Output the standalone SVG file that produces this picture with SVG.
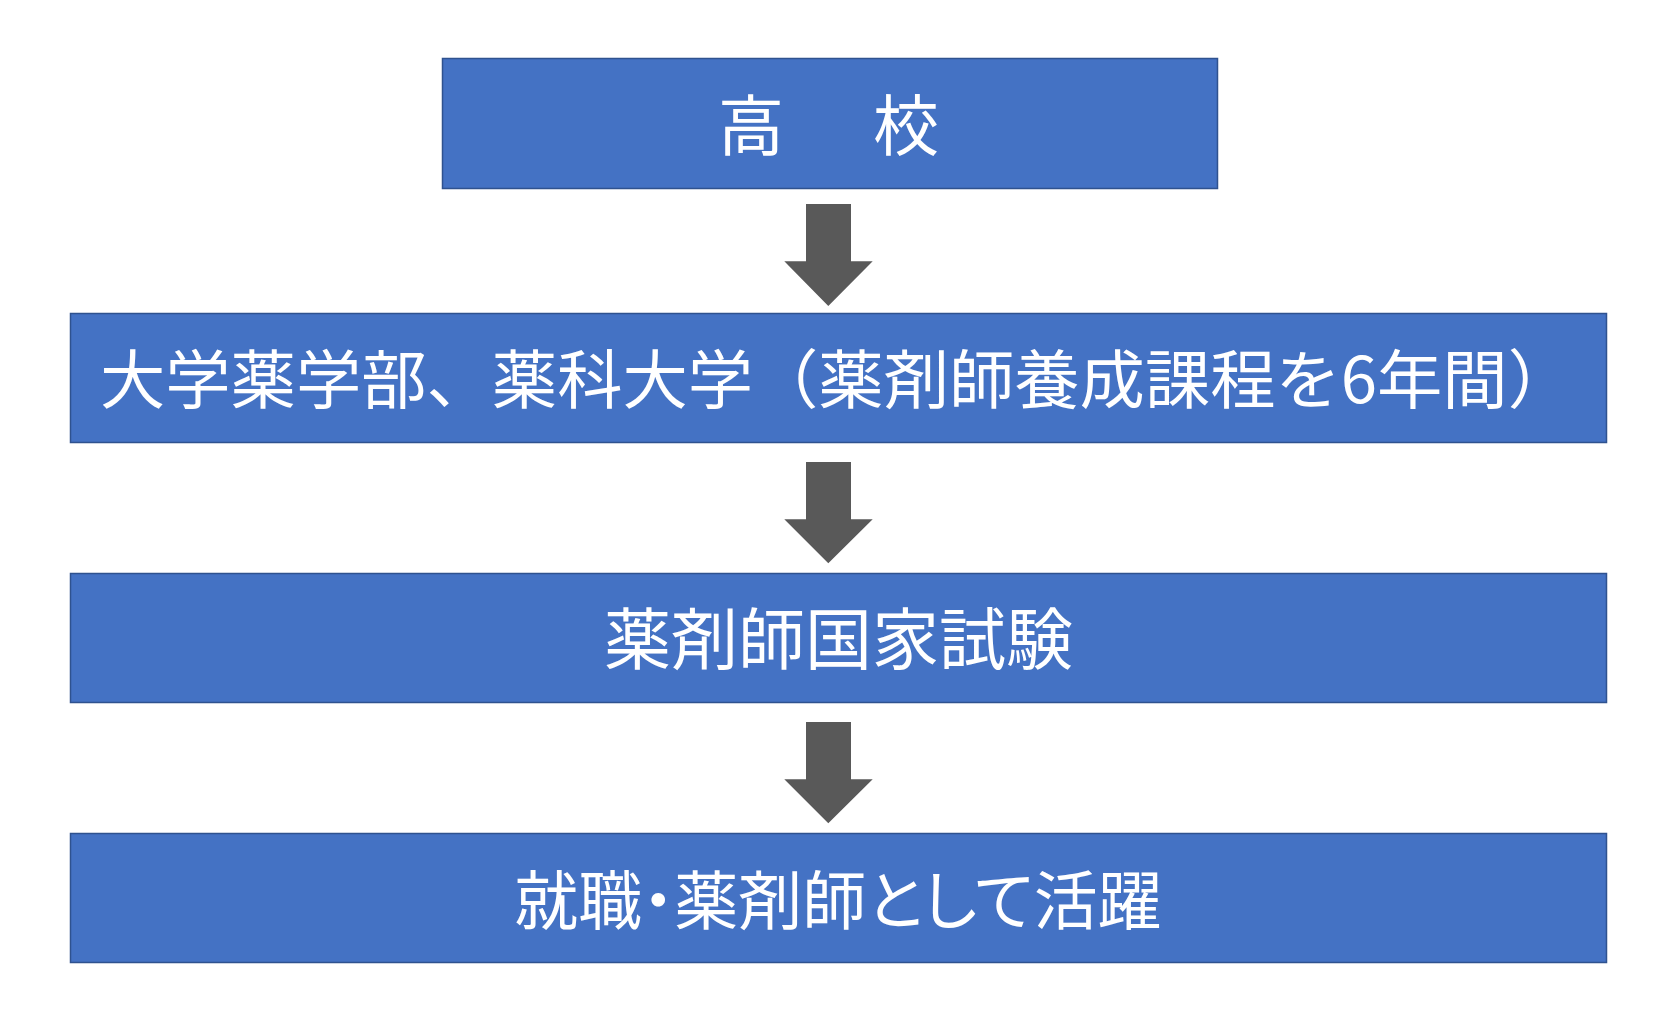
<svg xmlns="http://www.w3.org/2000/svg" width="1663" height="1021" viewBox="0 0 1663 1021">
<style>
.box{fill:#4472C4;stroke:#2F528F;stroke-width:1.5}
.lbl{fill:#FFFFFF;font-family:"Noto Sans CJK JP","Noto Sans CJK SC",sans-serif;font-weight:400}
.arr{fill:#595959}
</style>
<rect width="1663" height="1021" fill="#FFFFFF"/>
<g id="connectors">
<polygon class="arr" points="806,204 851,204 851,261.3 872.7,261.3 828.3,306 784.3,261.3 806,261.3"/>
<polygon class="arr" points="806,462 851,462 851,519.3 872.7,519.3 828.3,563.3 784.3,519.3 806,519.3"/>
<polygon class="arr" points="806,722 851,722 851,779.3 872.7,779.3 828.3,823.3 784.3,779.3 806,779.3"/>
</g>
<g id="node-koukou">
<rect class="box" x="442.5" y="58.5" width="775" height="130"/>
<text class="lbl" font-size="66" y="150"><tspan x="718">高</tspan><tspan x="873">校</tspan></text>
</g>
<g id="node-daigaku">
<rect class="box" x="70.5" y="313.5" width="1536" height="129"/>
<text class="lbl" font-size="64" x="100" y="403" textLength="1473" lengthAdjust="spacingAndGlyphs">大学薬学部、薬科大学（薬剤師養成課程を6年間）</text>
</g>
<g id="node-shiken">
<rect class="box" x="70.5" y="573.5" width="1536" height="129"/>
<text class="lbl" font-size="67" x="838.5" y="664" text-anchor="middle">薬剤師国家試験</text>
</g>
<g id="node-shushoku">
<rect class="box" x="70.5" y="833.5" width="1536" height="129"/>
<text class="lbl" font-size="64" x="838" y="924" text-anchor="middle" style="font-feature-settings:'palt'">就職・薬剤師として活躍</text>
</g>
</svg>
